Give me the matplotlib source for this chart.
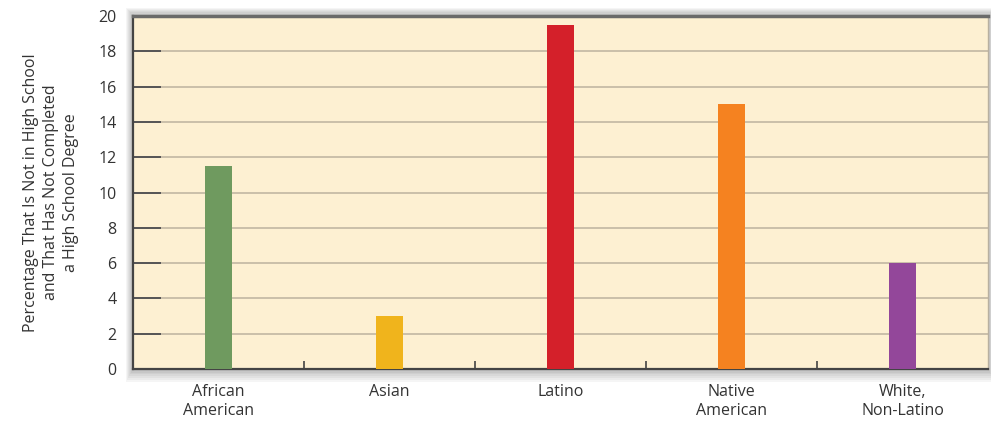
import numpy as np
import matplotlib
matplotlib.use('Agg')
import matplotlib.pyplot as plt
from matplotlib.patches import Rectangle

# data
groups = ['African\nAmerican', 'Asian', 'Latino', 'Native\nAmerican', 'White,\nNon-Latino']
pct = [11.5, 3, 19.5, 15, 6]
bar_colors = ['#6f9a5f', '#f0b41c', '#d4202a', '#f58220', '#93479a']
yticks = [0, 2, 4, 6, 8, 10, 12, 14, 16, 18, 20]

plt.rcParams['font.family'] = ['Open Sans', 'DejaVu Sans']

fig = plt.figure(figsize=(9.91, 4.26), dpi=100)
fig.patch.set_facecolor('white')
ax = fig.add_axes([0.1342, 0.1338, 0.8628, 0.8286])
ax.set_facecolor('#fdf0d2')

# soft shadow round the plot area
pos = ax.get_position()
for k in range(7):
    pad = 0.0035 * (k + 1)
    sh = Rectangle((pos.x0 - pad * 0.3, pos.y0 - pad * 1.2),
                   pos.width + pad * 0.6, pos.height + pad * 2.0,
                   transform=fig.transFigure, facecolor='#000000', alpha=0.04,
                   edgecolor='none', zorder=-1)
    fig.patches.append(sh)

x = np.arange(len(groups))
ax.bar(x, pct, width=0.16, color=bar_colors, zorder=3)

ax.set_xlim(-0.5, len(groups) - 0.5)
ax.set_ylim(0, 20)
ax.set_yticks(yticks)
ax.yaxis.grid(True, color='#bdb29f', linewidth=1.1, zorder=1)
ax.set_xticks(x)
ax.set_xticklabels(groups, fontsize=11.5, color='#333333', linespacing=1.25)
ax.set_xticks(np.arange(0.5, len(groups) - 0.5), minor=True)
ax.tick_params(axis='x', which='major', length=0, pad=11)
ax.tick_params(axis='x', which='minor', direction='in', length=6, width=1.2, color='#444444')
ax.tick_params(axis='y', direction='in', length=20, width=1.4, color='#555555',
               labelsize=11.5, labelcolor='#333333', pad=12)

for side in ['left', 'bottom']:
    ax.spines[side].set_color('#444444')
    ax.spines[side].set_linewidth(1.6)
ax.spines['top'].set_color('#6a6a6a')
ax.spines['top'].set_linewidth(2.5)
ax.spines['right'].set_color('#b8b0a0')
ax.spines['right'].set_linewidth(1.0)

ax.set_ylabel('Percentage That Is Not in High School\nand That Has Not Completed\na High School Degree',
              fontsize=11.5, color='#333333', linespacing=1.3, labelpad=14)

fig.savefig('out.png', dpi=100)
